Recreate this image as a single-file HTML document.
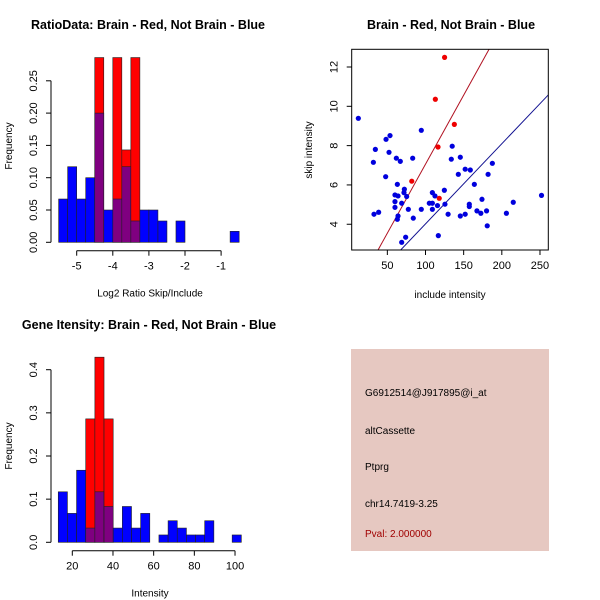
<!DOCTYPE html>
<html><head><meta charset="utf-8"><style>
body{margin:0;background:#fff;}
svg{display:block;font-family:"Liberation Sans",Arial,sans-serif;}
</style></head><body>
<svg id="c" width="600" height="600" viewBox="0 0 600 600"></svg>
<script>
// ---- Ratio histogram data ----
const ratioBinStart = -5.5, ratioBinWidth = 0.25;
const ratioBlue = [0.067,0.117,0.067,0.1,0.2,0.05,0.067,0.117,0.033,0.05,0.05,0.033,0,0.033,0,0,0,0,0,0.017];
const ratioRed  = [0,0,0,0,0.286,0,0.286,0.143,0.286,0,0,0,0,0,0,0,0,0,0,0];
const ratioXTicks = [-5,-4,-3,-2,-1];
const ratioYTicks = ["0.00","0.05","0.10","0.15","0.20","0.25"];
// ---- Intensity histogram data ----
const intBinStart = 13.1, intBinWidth = 4.5;
const intBlue = [0.117,0.067,0.167,0.033,0.117,0.083,0.033,0.083,0.033,0.067,0,0.017,0.05,0.033,0.017,0.017,0.05,0,0,0.017];
const intRed  = [0,0,0,0.286,0.429,0.286,0,0,0,0,0,0,0,0,0,0,0,0,0,0];
const intXTicks = [20,40,60,80,100];
const intYTicks = ["0.0","0.1","0.2","0.3","0.4"];
// ---- Scatter data ----
const blueX = [12,31.7,34.3,32.5,38.6,47.8,48.3,53.5,52.2,61.8,67,63.1,60,64,60,60,64,63.1,68.8,71.8,72.3,75.3,77.5,68.8,74,83.2,84,94.5,94.5,105,109,109,112.4,109,115.7,124.7,125.5,116.8,135,133.8,145.6,143,152,158.7,164,157.4,157.4,129.6,145.6,152,167.4,172.5,174,180,182,187.6,180.9,206,215,252];
const blueY = [9.39,7.15,7.81,4.51,4.61,6.42,8.32,8.51,7.66,7.36,7.2,6.03,5.49,5.44,5.15,4.86,4.42,4.25,5.07,5.61,5.78,5.41,4.76,3.08,3.34,7.36,4.31,8.78,4.76,5.07,5.07,5.61,5.44,4.76,4.95,5.73,5.02,3.42,7.97,7.31,7.41,6.54,6.8,6.76,6.03,5.02,4.9,4.51,4.42,4.51,4.68,4.56,5.27,4.68,6.54,7.1,3.92,4.56,5.12,5.47];
const redX = [125,112.9,137.8,116.4,82,118];
const redY = [12.49,10.36,9.08,7.93,6.19,5.32];
const fitSlopes = [0.0702,0.04078];
const fitIntercepts = [0.036,-0.06];
const fitColors = ["#b01020","#101090"];
const scatXTicks = [50,100,150,200,250];
const scatYTicks = [4,6,8,10,12];

const NS="http://www.w3.org/2000/svg";
const svg=document.getElementById('c');
function el(tag,attrs,parent,txt){const e=document.createElementNS(NS,tag);for(const k in attrs)e.setAttribute(k,attrs[k]);if(txt!==undefined)e.textContent=txt;(parent||svg).appendChild(e);return e;}

function hist(o){
  const g=el('g',{});
  
  
  const sx=v=>o.x0px+(v-o.x0)*o.kx, sy=v=>o.y0px-v*o.ky;
  for(let i=0;i<o.blue.length;i++){
    const l=sx(o.start+i*o.w), r=sx(o.start+(i+1)*o.w);
    const b=o.blue[i], rd=o.red[i];
    const hi=Math.max(b,rd), lo=Math.min(b,rd);
    if(hi>0){
      const rc=el('rect',{x:l,y:sy(hi),width:r-l,height:sy(0)-sy(hi),fill:rd>b?'#ff0000':'#0000ff',stroke:'#202020','stroke-width':0.6},g);
      
      
    }
    if(lo>0){
      const pc=el('rect',{x:l,y:sy(lo),width:r-l,height:sy(0)-sy(lo),fill:'#7f0080',stroke:'#202020','stroke-width':0.6},g);
      
      
    }
  }
  const yv=o.yTicks.map(Number);
  el('line',{x1:o.yAxisX,x2:o.yAxisX,y1:sy(yv[0]),y2:sy(yv[yv.length-1]),stroke:'#000'},g);
  o.yTicks.forEach(t=>{const y=sy(Number(t));el('line',{x1:o.yAxisX-5,x2:o.yAxisX,y1:y,y2:y,stroke:'#000'},g);
    el('text',{x:o.yAxisX-14,y:y,'font-size':11,'text-anchor':'middle',transform:`rotate(-90 ${o.yAxisX-14} ${y})`},g,t);});
  el('line',{x1:sx(o.xTicks[0]),x2:sx(o.xTicks[o.xTicks.length-1]),y1:o.xAxisY,y2:o.xAxisY,stroke:'#000'},g);
  o.xTicks.forEach(t=>{const x=sx(t);el('line',{x1:x,x2:x,y1:o.xAxisY,y2:o.xAxisY+5,stroke:'#000'},g);
    el('text',{x:x,y:o.xAxisY+19,'font-size':11,'text-anchor':'middle'},g,String(t));});
  const tt=el('text',{x:o.titleX,y:o.titleY,'font-size':12.5,'font-weight':'bold','text-anchor':'middle'},g,o.title);
  
  const xl=el('text',{x:o.xlabX,y:o.xAxisY+46,'font-size':10,'text-anchor':'middle'},g,o.xlab);
  
  const yl=el('text',{x:12,y:o.ylabY,'font-size':10,'text-anchor':'middle',transform:`rotate(-90 12 ${o.ylabY})`},g,'Frequency');
  
}
hist({name:'ratio-histogram',blue:ratioBlue,red:ratioRed,start:ratioBinStart,w:ratioBinWidth,x0:-5,x0px:76.7,kx:36.1,y0px:242.3,ky:646,
  yAxisX:51,xAxisY:250.7,xTicks:ratioXTicks,yTicks:ratioYTicks,title:'RatioData: Brain - Red, Not Brain - Blue',titleX:148,titleY:29,xlab:'Log2 Ratio Skip/Include',xlabX:150,ylabY:146});
hist({name:'intensity-histogram',blue:intBlue,red:intRed,start:intBinStart,w:intBinWidth,x0:20,x0px:72.3,kx:2.034,y0px:542.3,ky:431.5,
  yAxisX:51,xAxisY:550.7,xTicks:intXTicks,yTicks:intYTicks,title:'Gene Itensity: Brain - Red, Not Brain - Blue',titleX:149,titleY:329,xlab:'Intensity',xlabX:150,ylabY:446});

(function(){
  const g=el('g',{});
  
  
  const L=351.7,R=548.3,T=49.3,B=250;
  const xmin=3.3,xmax=260.9,ymin=2.69,ymax=12.9;
  const sx=v=>L+(v-xmin)/(xmax-xmin)*(R-L), sy=v=>B-(v-ymin)/(ymax-ymin)*(B-T);
  const cp=el('clipPath',{id:'sc'},g);
  el('rect',{x:L,y:T,width:R-L,height:B-T},cp);
  fitSlopes.forEach((s,i)=>{
    const ln=el('line',{x1:sx(xmin),y1:sy(fitIntercepts[i]+s*xmin),x2:sx(xmax),y2:sy(fitIntercepts[i]+s*xmax),stroke:fitColors[i],'stroke-width':1,'clip-path':'url(#sc)'},g);
    
  });
  blueX.forEach((x,i)=>{const c=el('circle',{cx:sx(x),cy:sy(blueY[i]),r:2.6,fill:'#0000dd'},g);
    });
  redX.forEach((x,i)=>{const c=el('circle',{cx:sx(x),cy:sy(redY[i]),r:2.6,fill:'#ee0000'},g);
    });
  el('rect',{x:L,y:T,width:R-L,height:B-T,fill:'none',stroke:'#000'},g);
  scatXTicks.forEach(t=>{const x=sx(t);el('line',{x1:x,x2:x,y1:B,y2:B+5,stroke:'#000'},g);
    el('text',{x:x,y:B+19,'font-size':11,'text-anchor':'middle'},g,String(t));});
  scatYTicks.forEach(t=>{const y=sy(t);el('line',{x1:L-5,x2:L,y1:y,y2:y,stroke:'#000'},g);
    el('text',{x:L-14,y:y,'font-size':11,'text-anchor':'middle',transform:`rotate(-90 ${L-14} ${y})`},g,String(t));});
  const tt=el('text',{x:451,y:29,'font-size':12.5,'font-weight':'bold','text-anchor':'middle'},g,'Brain - Red, Not Brain - Blue');
  
  const xl=el('text',{x:450,y:298,'font-size':10,'text-anchor':'middle'},g,'include intensity');
  
  const yl=el('text',{x:312,y:150,'font-size':10,'text-anchor':'middle',transform:'rotate(-90 312 150)'},g,'skip intensity');
  
})();

(function(){
  const g=el('g',{});
  
  
  el('rect',{x:351,y:349,width:198,height:202,fill:'#e6c8c1'},g);
  const lines=[['G6912514@J917895@i_at',396,'#000'],['altCassette',434,'#000'],['Ptprg',470,'#000'],['chr14.7419-3.25',507,'#000'],['Pval: 2.000000',537,'#a00000']];
  lines.forEach(l=>{const t=el('text',{x:365,y:l[1],'font-size':10,fill:l[2]},g,l[0]);
    });
})();
</script>
</body></html>
